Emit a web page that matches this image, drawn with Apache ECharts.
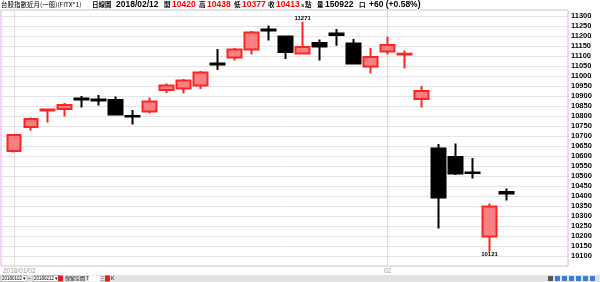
<!DOCTYPE html>
<html><head><meta charset="utf-8">
<script src="https://cdn.jsdelivr.net/npm/echarts@6/dist/echarts.min.js"></script>
<style>html,body{margin:0;padding:0;background:#fff}#c{width:600px;height:282px}</style>
</head><body><div id="c"></div>
<script>
const dates = ['2018/01/02','2018/01/03','2018/01/04','2018/01/05','2018/01/08','2018/01/09','2018/01/10','2018/01/11','2018/01/12','2018/01/15','2018/01/16','2018/01/17','2018/01/18','2018/01/19','2018/01/22','2018/01/23','2018/01/24','2018/01/25','2018/01/26','2018/01/29','2018/01/30','2018/01/31','2018/02/01','2018/02/02','2018/02/05','2018/02/06','2018/02/07','2018/02/08','2018/02/09','2018/02/12'];
const opens  = [10625,10745,10828,10835,10887,10882,10880,10800,10822,10930,10938,10953,11062,11093,11133,11232,11197,11113,11165,11212,11163,11048,11123,11108,10885,10638,10595,10518,10197,10420];
const closes = [10705,10785,10832,10855,10883,10878,10808,10797,10872,10953,10978,11018,11058,11133,11218,11228,11120,11145,11148,11205,11063,11095,11155,11111,10925,10392,10512,10515,10348,10413];
const lows   = [10617,10728,10768,10798,10842,10852,10802,10758,10814,10915,10913,10935,11030,11077,11108,11177,11085,11112,11077,11151,11058,11013,11108,11038,10843,10237,10505,10487,10121,10377];
const highs  = [10707,10793,10833,10865,10900,10905,10897,10830,10892,10962,10985,11025,11135,11140,11225,11252,11202,11271,11183,11235,11185,11140,11197,11127,10950,10660,10663,10590,10363,10438];
const yMin = 10050, yMax = 11330, yStep = 50;
const padSlots = 3;

const cats = dates.concat(Array(padSlots).fill(''));
const kData = dates.map((d,i)=>[opens[i],closes[i],lows[i],highs[i]]);
const markIdx = [0, 22];
const pink = '#f2a4f2';
const F = 'Liberation Sans, Noto Sans CJK TC, sans-serif';
const CJK = 'Noto Sans CJK TC, sans-serif';

function t(x, text, opt){ return {type:'text', x:x, y:5, style:Object.assign({text:text, fill:'#000', font:'bold 8.5px '+F, textVerticalAlign:'middle'}, opt||{})}; }
const cj = (w)=>({font:(w||'bold')+' 6.5px '+CJK});

const chart = echarts.init(document.getElementById('c'));
chart.setOption({
  animation:false,
  backgroundColor:'#fff',
  grid:[
    {left:1, top:10, width:567, height:256, show:true, borderColor:pink, borderWidth:1, backgroundColor:'#fff'},
    {left:5, top:10, width:561, height:256}
  ],
  xAxis:[
    {gridIndex:0, type:'value', min:0, max:1, show:false},
    {gridIndex:1, type:'category', data:cats, boundaryGap:true,
     axisLine:{show:false},
     axisTick:{show:true, alignWithLabel:true, inside:true, length:256, interval:(i)=>markIdx.includes(i), lineStyle:{color:'#dedede'}},
     axisLabel:{show:true, interval:(i)=>markIdx.includes(i), margin:2, color:'#9a9a9a', fontSize:6.5, fontFamily:F,
       formatter:(v,i)=> i===0 ? '{a|'+v+'}' : v.slice(5,7),
       rich:{a:{padding:[0,0,0,11], color:'#9a9a9a', fontSize:6.5, fontFamily:F}}},
     splitLine:{show:false}}
  ],
  yAxis:[
    {gridIndex:0, type:'value', position:'right', min:yMin, max:yMax, interval:yStep,
     axisLine:{show:false}, axisTick:{show:false},
     axisLabel:{margin:3, color:'#000', fontSize:7.5, fontWeight:'bold', fontFamily:F, showMinLabel:false, showMaxLabel:false, formatter:(v)=>String(v)},
     splitLine:{show:true, lineStyle:{color:'#e3e3e3', width:1}}},
    {gridIndex:1, type:'value', min:yMin, max:yMax, interval:yStep, show:false}
  ],
  series:[{
    type:'candlestick', xAxisIndex:1, yAxisIndex:1, data:kData, barWidth:14,
    itemStyle:{color:'#f98080', color0:'#000', borderColor:'#ff2424', borderColor0:'#000', borderWidth:2},
    markPoint:{symbol:'circle', symbolSize:0, silent:true,
      label:{show:true, color:'#000', fontSize:6, fontWeight:'bold', fontFamily:F, formatter:(p)=>String(p.value)},
      data:[
        {type:'max', valueDim:'highest', label:{position:'top', distance:0}},
        {type:'min', valueDim:'lowest', label:{position:'bottom', distance:0}}
      ]}
  }],
  graphic:[
    t(1,'台股指數近月(一般)(FITX*1)',{font:'6.5px '+CJK}),
    t(92,'日線圖',cj()),
    t(116,'2018/02/12'),
    t(164,'開',cj()), t(172,'10420',{fill:'#ff0000'}),
    t(199,'高',cj()), t(207,'10438',{fill:'#ff0000'}),
    t(234,'低',cj()), t(242,'10377',{fill:'#ff0000'}),
    t(268,'收',cj()), t(276,'10413',{fill:'#ff0000'}),
    t(301,'s',{font:'bold 6px '+F}), t(305,'點',cj()),
    t(317,'量',cj()), t(325,'150922'),
    t(359,'口',cj()),
    t(369,'+60 (+0.58%)'),
    {type:'rect', shape:{x:0,y:275,width:600,height:7}, style:{fill:'#e2e2e2'}},
    {type:'rect', shape:{x:1,y:275.5,width:26,height:6}, style:{fill:'#fff', stroke:'#888', lineWidth:0.5}},
    {type:'text', x:2, y:278.5, style:{text:'20180102 ▾', font:'4.5px '+F, fill:'#000', textVerticalAlign:'middle'}},
    {type:'text', x:28, y:278.5, style:{text:'~', font:'5px '+F, fill:'#000', textVerticalAlign:'middle'}},
    {type:'rect', shape:{x:33,y:275.5,width:26,height:6}, style:{fill:'#fff', stroke:'#888', lineWidth:0.5}},
    {type:'text', x:34, y:278.5, style:{text:'20180212 ▾', font:'4.5px '+F, fill:'#000', textVerticalAlign:'middle'}},
    {type:'rect', shape:{x:58,y:275.5,width:5,height:6}, style:{fill:'#e02020'}},
    {type:'text', x:65, y:278.5, style:{text:'保留空間 7', font:'5px '+CJK, fill:'#000', textVerticalAlign:'middle'}},
    {type:'rect', shape:{x:89,y:275.5,width:11,height:6}, style:{fill:'#fff'}},
    {type:'text', x:100, y:278.5, style:{text:'三', font:'5px '+CJK, fill:'#000', textVerticalAlign:'middle'}},
    {type:'rect', shape:{x:105,y:275.5,width:5,height:6}, style:{fill:'#e02020'}},
    {type:'text', x:111, y:278.5, style:{text:'K', font:'5px '+F, fill:'#000', textVerticalAlign:'middle'}},
    {type:'rect', shape:{x:548,y:276,width:5,height:5}, style:{fill:'#555'}},
    {type:'rect', shape:{x:555,y:276,width:5,height:5}, style:{fill:'#3a7fd0'}},
    {type:'rect', shape:{x:562,y:276,width:5,height:5}, style:{fill:'#3a7fd0'}},
    {type:'rect', shape:{x:569,y:276,width:5,height:5}, style:{fill:'#3a7fd0'}},
    {type:'rect', shape:{x:576,y:276,width:5,height:5}, style:{fill:'#3a7fd0'}},
    {type:'rect', shape:{x:583,y:276,width:5,height:5}, style:{fill:'#3a7fd0'}},
    {type:'rect', shape:{x:590,y:276,width:5,height:5}, style:{fill:'#3a7fd0'}}
  ]
});
</script></body></html>
